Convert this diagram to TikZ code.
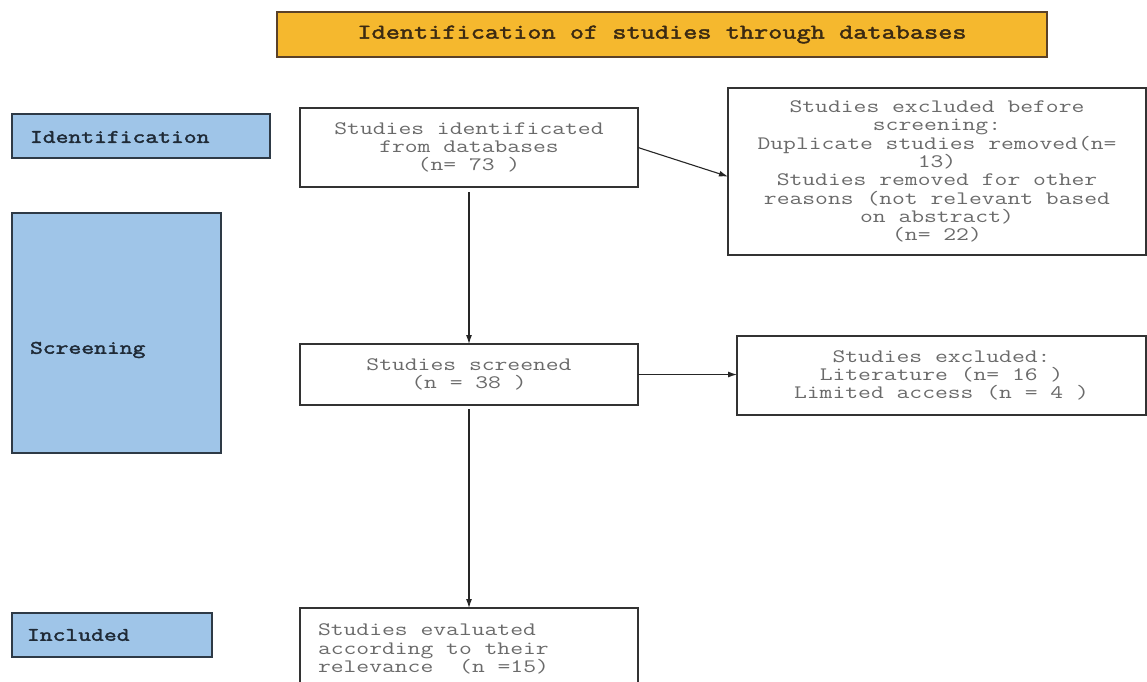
\documentclass[tikz,border=0pt]{standalone}
\usepackage{fontspec}
\newfontfamily\flowfont[FakeStretch=1.31]{Latin Modern Mono}
\newfontfamily\boldflowfont[FakeStretch=1.31,FakeBold=2.2]{Latin Modern Mono}
\usetikzlibrary{arrows.meta,calc}
\definecolor{hdrfill}{HTML}{F5B82E}
\definecolor{hdrline}{HTML}{5A4128}
\definecolor{hdrtext}{HTML}{3B2A12}
\definecolor{stagefill}{HTML}{9FC5E8}
\definecolor{stageline}{HTML}{2E3A46}
\definecolor{stagetext}{HTML}{1F2A36}
\definecolor{boxtext}{HTML}{6A6A6A}
\definecolor{boxline}{HTML}{333333}
\newcommand\boxfont{\flowfont\fontsize{19}{18.3}\selectfont\lineskiplimit=-50pt\relax}
\newcommand\stagefont{\boldflowfont\fontsize{19}{18.3}\selectfont}
\newcommand\hdrfont{\boldflowfont\fontsize{21}{22}\selectfont}
\begin{document}
\begin{tikzpicture}[x=1pt,y=-1pt,
 every node/.style={inner sep=0pt, outer sep=0pt},
 header/.style={draw=hdrline, fill=hdrfill, line width=1.3pt, minimum width=770pt, minimum height=45pt, font=\hdrfont, text=hdrtext},
 stage/.style={draw=stageline, fill=stagefill, line width=1.2pt},
 stagetxt/.style={font=\stagefont, text=stagetext, anchor=west},
 flowbox/.style={draw=boxline, fill=white, line width=1.2pt, align=center, font=\boxfont, text=boxtext},
 flowtxt/.style={align=left, font=\boxfont, text=boxtext, anchor=west},
 flow/.style={draw=black!85, line width=1.1pt, -{Latex[length=9pt,width=6pt]}}
]
\useasboundingbox (0,0) rectangle (1147,681);
\fill[white] (0,0) rectangle (1147,681);
\begin{scope}
\clip (0,0) rectangle (1147,681);
% header
\node[header] (hdr) at (662,34.5) {Identification of studies through databases};
% stage boxes
\node[stage, minimum width=258pt, minimum height=44pt] (ident) at (141,136) {};
\node[stagetxt] (identtxt) at (30,137) {Identification};
\node[stage, minimum width=209pt, minimum height=240pt] (screen) at (116.5,333) {};
\node[stagetxt] (screentxt) at (30,350) {Screening};
\node[stage, minimum width=200pt, minimum height=44pt] (incl) at (112,635) {};
\node[stagetxt] (incltxt) at (27,635) {Included};
% flow boxes
\node[flowbox, minimum width=338pt, minimum height=79pt] (b1) at (469,147.5)
  {Studies identificated\\from databases\\(n= 73 )};
\node[flowbox, minimum width=418pt, minimum height=167pt] (rtop) at (937,171.5)
  {Studies excluded before\\screening:\\Duplicate studies removed(n=\\13)\\Studies removed for other\\reasons (not relevant based\\on abstract)\\(n= 22)};
\node[flowbox, minimum width=338pt, minimum height=61pt] (b2) at (469,374.5)
  {Studies screened\\(n = 38 )};
\node[flowbox, minimum width=409pt, minimum height=79pt] (r2) at (941.5,375.5)
  {Studies excluded:\\Literature (n= 16 )\\Limited access (n = 4 )};
\node[flowbox, minimum width=338pt, minimum height=82pt] (b3) at (469,649) {};
\node[flowtxt] (b3txt) at (318,649)
  {Studies evaluated\\according to their\\relevance\hspace{13pt} (n =15)};
% connectors
\draw[flow, shorten <=5pt] (b1.south) -- (b2.north);
\draw[flow] (b1.east) -- ([yshift=-5pt]rtop.west);
\draw[flow] (b2.east) -- (r2.west |- b2.east);
\draw[flow, shorten <=4pt] (b2.south) -- (b3.north);
\end{scope}
\end{tikzpicture}
\end{document}
